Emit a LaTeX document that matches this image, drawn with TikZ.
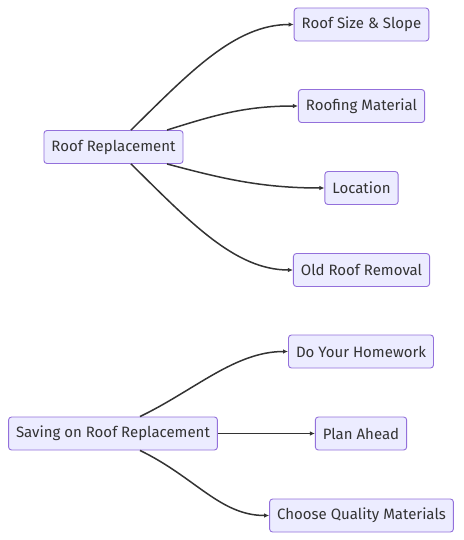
\documentclass[tikz,border=0pt]{standalone}
\usepackage{fontspec}
\setmainfont{Fira Sans}
\usepackage{tikz}
\usetikzlibrary {arrows.meta,
                 positioning}
\definecolor{boxfill}{HTML}{ECECFF}
\definecolor{boxline}{HTML}{9370DB}
\definecolor{ink}{HTML}{333333}
\tikzset{
        box/.style={draw=boxline, fill=boxfill, rounded corners=3pt,
                    line width=0.9pt, text=ink, minimum height=33pt,
                    inner xsep=7.5pt, font=\fontsize{15}{17}\selectfont},
        myarrow/.style={-{Latex[length=5pt, width=4.5pt]}, draw=ink,
                        line width=1.5pt},
 }
\begin{document}
\begin{tikzpicture}[x=1pt, y=1pt]
    \useasboundingbox (0,0) rectangle (463,-540);
    % first tree
    \node[box] (rr) at (113.5,-147) {Roof Replacement};
    \node[box] (size) at (361.5,-24.5) {Roof Size \& Slope};
    \node[box] (mat) at (361.5,-106) {Roofing Material};
    \node[box] (loc) at (361.5,-188) {Location};
    \node[box] (old) at (361.5,-270) {Old Roof Removal};
    \draw[myarrow] ([xshift=17.5pt]rr.north) .. controls (190,-72) and (235,-24.5) .. (size.west);
    \draw[myarrow] ([xshift=53.5pt]rr.north) .. controls (215,-115) and (245,-106) .. (mat.west);
    \draw[myarrow] ([xshift=53.5pt]rr.south) .. controls (220,-178) and (260,-188) .. (loc.west);
    \draw[myarrow] ([xshift=17.5pt]rr.south) .. controls (190,-222) and (235,-270) .. (old.west);
    % second tree
    \node[box] (save) at (113,-433.5) {Saving on Roof Replacement};
    \node[box] (home) at (361,-351.5) {Do Your Homework};
    \node[box] (plan) at (361,-433.5) {Plan Ahead};
    \node[box] (qual) at (361.5,-515.5) {Choose Quality Materials};
    \draw[myarrow] ([xshift=27pt]save.north) .. controls (195,-390) and (235,-351.5) .. (home.west);
    \draw[myarrow] (save.east) -- (plan.west);
    \draw[myarrow] ([xshift=27pt]save.south) .. controls (195,-477) and (220,-515.5) .. (qual.west);
\end{tikzpicture}
\end{document}
